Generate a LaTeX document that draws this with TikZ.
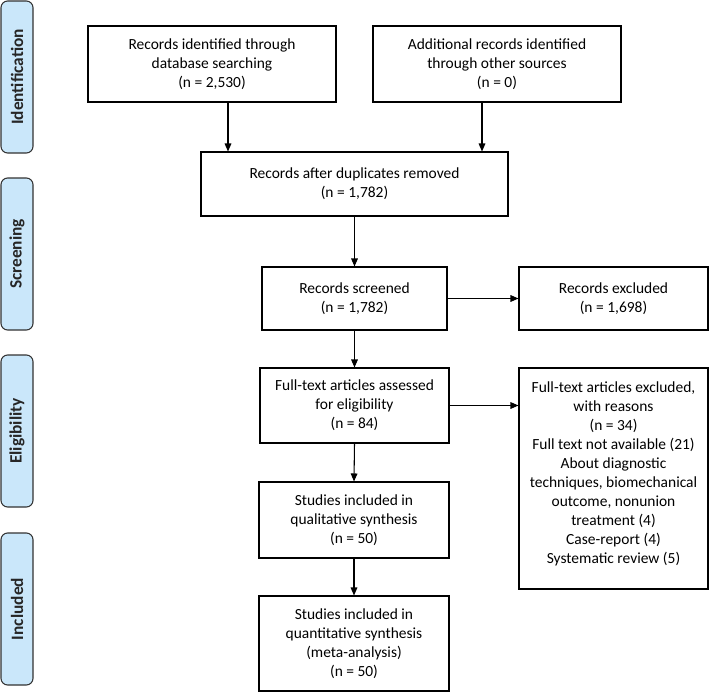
\documentclass[tikz,border=0pt]{standalone}
\usepackage{fontspec}
\setmainfont{Carlito}
\usetikzlibrary{arrows.meta,positioning,calc}
\definecolor{sidefill}{RGB}{202,231,250}
\definecolor{sideline}{RGB}{50,50,50}
\begin{document}
\begin{tikzpicture}[x=0.75pt,y=-0.75pt,
  box/.style={draw=black,line width=0.8pt,fill=white,align=center,inner sep=0pt,
    font=\fontsize{11.6}{14.25}\selectfont},
  side/.style={draw=sideline,line width=0.8pt,fill=sidefill,rounded corners=5pt,
    minimum width=24pt,minimum height=114pt,inner sep=0pt},
  sidetext/.style={rotate=90,font=\fontsize{13}{15}\selectfont\bfseries,text=black!85},
  arr/.style={line width=0.8pt,-{Triangle[length=6pt,width=5pt]}}]
\useasboundingbox (0,0) rectangle (710,692);
% side labels
\node[side] (s1) at (17,77) {};
\node[sidetext] (t1) at (s1.center) {Identification};
\node[side] (s2) at (17,254) {};
\node[sidetext] (t2) at (s2.center) {Screening};
\node[side] (s3) at (17,431) {};
\node[sidetext] (t3) at (s3.center) {Eligibility};
\node[side] (s4) at (17,609) {};
\node[sidetext] (t4) at (s4.center) {Included};
% boxes
\node[box,minimum width=186pt,minimum height=57pt] (b1) at (212,64)
  {Records identified through\\database searching\\(n = 2,530)};
\node[box,minimum width=186pt,minimum height=57pt] (b2) at (497,64)
  {Additional records identified\\through other sources\\(n = 0)};
\node[box,minimum width=230.25pt,minimum height=48pt] (b3) at (354.5,184)
  {Records after duplicates removed\\(n = 1,782)};
\node[box,minimum width=138.75pt,minimum height=47.25pt] (b4) at (354.5,298.5)
  {Records screened\\(n = 1,782)};
\node[box,minimum width=141.75pt,minimum height=47.25pt] (b5) at (613.5,298.5)
  {Records excluded\\(n = 1,698)};
\node[box,minimum width=141.75pt,minimum height=56.25pt] (b6) at (354.5,405.5)
  {Full-text articles assessed\\for eligibility\\(n = 84)};
\node[box,minimum width=141.75pt,minimum height=165.75pt] (b7) at (613.5,478.5) {};
\node[font=\fontsize{11.6}{14.25}\selectfont,align=center,inner sep=0pt] (t7) at (613.5,474)
  {Full-text articles excluded,\\with reasons\\(n = 34)\\Full text not available (21)\\About diagnostic\\techniques, biomechanical\\outcome, nonunion\\treatment (4)\\Case-report (4)\\Systematic review (5)};
\node[box,minimum width=142.5pt,minimum height=57pt] (b8) at (354,520)
  {Studies included in\\qualitative synthesis\\(n = 50)};
\node[box,minimum width=142.5pt,minimum height=71.25pt] (b9) at (354,643.5)
  {Studies included in\\quantitative synthesis\\(meta-analysis)\\(n = 50)};
% connectors
\coordinate (a1) at (228,102);
\coordinate (a2) at (482,102);
\draw[arr] (a1) -- (a1 |- b3.north);
\draw[arr] (a2) -- (a2 |- b3.north);
\draw[arr] (b3.south) -- (b4.north);
\draw[arr] (b4.east) -- (b5.west);
\draw[arr] (b4.south) -- (b6.north);
\draw[arr] (b6.east) -- (b6.east -| b7.west);
\draw[arr] (b6.south) -- (b8.north);
\draw[arr] (b8.south) -- (b9.north);
\end{tikzpicture}
\end{document}
